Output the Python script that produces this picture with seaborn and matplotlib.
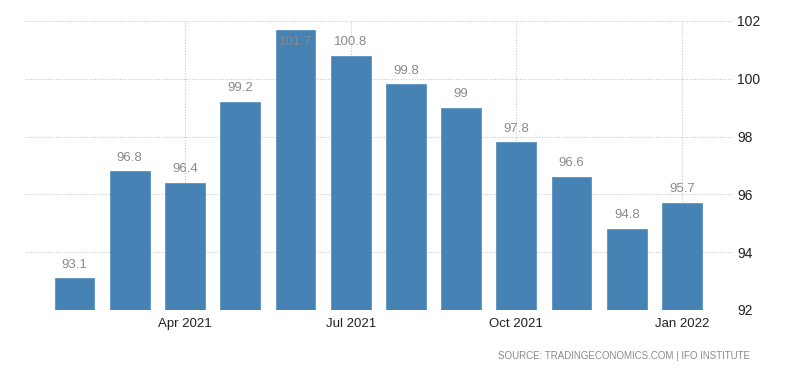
import matplotlib
matplotlib.use('Agg')
import matplotlib.pyplot as plt
import pandas as pd
import seaborn as sns

months = ['Feb 2021', 'Mar 2021', 'Apr 2021', 'May 2021', 'Jun 2021', 'Jul 2021',
          'Aug 2021', 'Sep 2021', 'Oct 2021', 'Nov 2021', 'Dec 2021', 'Jan 2022']
values = [93.1, 96.8, 96.4, 99.2, 101.7, 100.8, 99.8, 99.0, 97.8, 96.6, 94.8, 95.7]
value_labels = ['93.1', '96.8', '96.4', '99.2', '101.7', '100.8',
                '99.8', '99', '97.8', '96.6', '94.8', '95.7']
tick_months = ['Apr 2021', 'Jul 2021', 'Oct 2021', 'Jan 2022']
y_ticks = [92, 94, 96, 98, 100, 102]

df = pd.DataFrame({'month': months, 'value': values})

sns.set_style('white')
plt.rcParams['font.family'] = ['Liberation Sans', 'DejaVu Sans']

fig = plt.figure(figsize=(8, 3.73), dpi=100)
ax = fig.add_axes([0.031, 0.169, 0.885, 0.775])

sns.barplot(data=df, x='month', y='value', color='#4682b4', saturation=1,
            width=0.72, edgecolor='#5b93c0', linewidth=0.6, ax=ax, zorder=3)

ax.set_ylim(92, 102)
ax.set_xlim(-0.9, 11.92)

# value labels above the bars, kept inside the top of the plot
for i, (v, lab) in enumerate(zip(values, value_labels)):
    y = min(v + 0.47, 101.27)
    ax.text(i, y, lab, ha='center', va='center', fontsize=9.5, color='#8a8a8a', zorder=4)

tick_pos = [months.index(m) for m in tick_months]
ax.set_xticks(tick_pos)
ax.set_xticklabels(tick_months, fontsize=9.5, color='#222222')
ax.set_yticks(y_ticks)
ax.set_yticklabels([str(t) for t in y_ticks], fontsize=10, color='#222222')
ax.yaxis.tick_right()
ax.tick_params(axis='both', length=0)
ax.tick_params(axis='x', pad=6)
ax.tick_params(axis='y', pad=3)
ax.set_xlabel('')
ax.set_ylabel('')

ax.grid(True, axis='both', linestyle=(0, (1, 1.5)), color='#c8c8c8', linewidth=0.8, zorder=0)
ax.set_axisbelow(True)
for s in ax.spines.values():
    s.set_visible(False)

fig.text(0.938, 0.045, 'SOURCE: TRADINGECONOMICS.COM | IFO INSTITUTE', ha='right', va='center',
         fontsize=7, color='#8a8a8a')

plt.savefig('out.png', dpi=100)
plt.close()
